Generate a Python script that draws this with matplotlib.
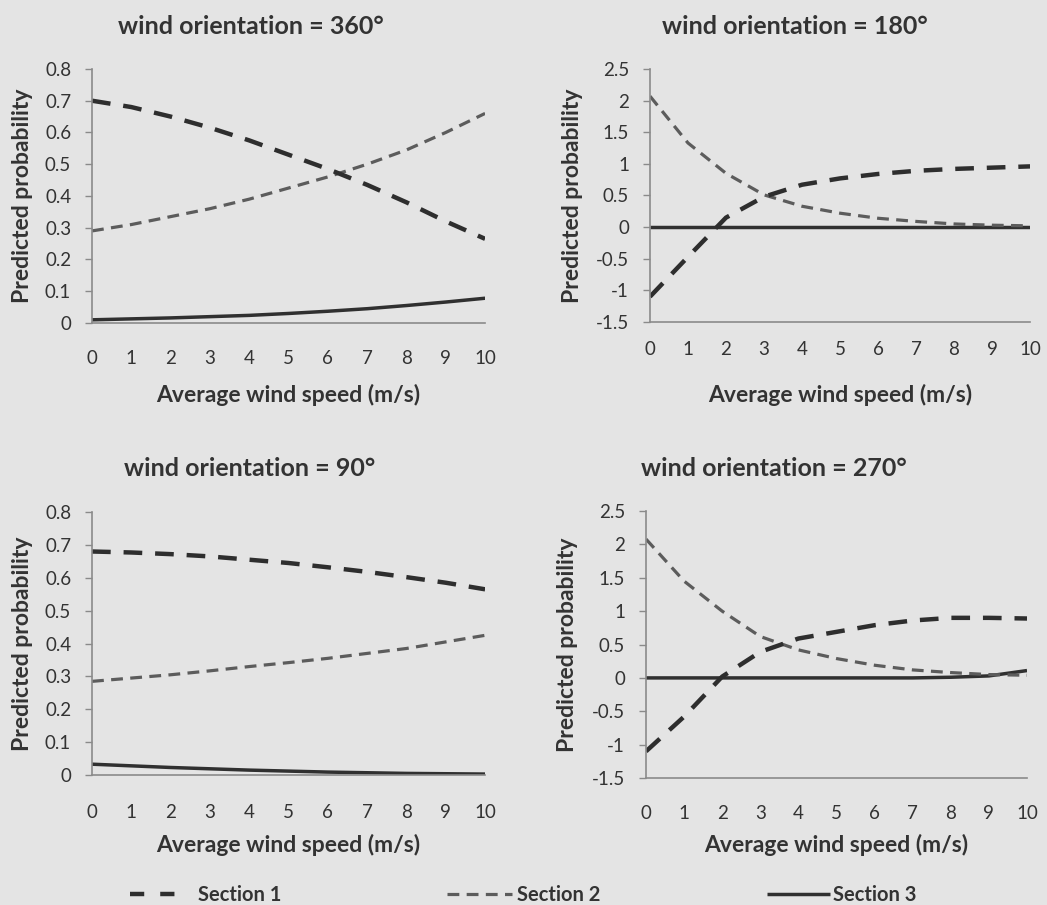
import matplotlib
matplotlib.use("Agg")
import matplotlib.pyplot as plt
from matplotlib.lines import Line2D

# ---------------- data ----------------
wind_speed = [0, 1, 2, 3, 4, 5, 6, 7, 8, 9, 10]
xtick_labels = ["0", "1", "2", "3", "4", "5", "6", "7", "8", "9", "10"]

titles = ["wind orientation = 360°", "wind orientation = 180°",
          "wind orientation = 90°", "wind orientation = 270°"]
series_names = ["Section 1", "Section 2", "Section 3"]

s1_360 = [0.70, 0.68, 0.65, 0.615, 0.575, 0.53, 0.485, 0.435, 0.38, 0.32, 0.265]
s2_360 = [0.29, 0.31, 0.335, 0.36, 0.39, 0.425, 0.46, 0.50, 0.545, 0.60, 0.66]
s3_360 = [0.010, 0.013, 0.016, 0.020, 0.024, 0.030, 0.037, 0.045, 0.055, 0.066, 0.078]

s1_180 = [-1.10, -0.47, 0.15, 0.48, 0.67, 0.77, 0.84, 0.89, 0.92, 0.94, 0.96]
s2_180 = [2.07, 1.33, 0.85, 0.51, 0.33, 0.22, 0.14, 0.09, 0.05, 0.03, 0.02]
s3_180 = [0.0, 0.0, 0.0, 0.0, 0.0, 0.0, 0.0, 0.0, 0.0, 0.0, 0.0]

s1_90 = [0.68, 0.677, 0.672, 0.665, 0.655, 0.645, 0.632, 0.618, 0.602, 0.585, 0.565]
s2_90 = [0.285, 0.295, 0.305, 0.317, 0.33, 0.342, 0.355, 0.37, 0.385, 0.405, 0.425]
s3_90 = [0.033, 0.028, 0.023, 0.019, 0.015, 0.012, 0.009, 0.007, 0.005, 0.004, 0.003]

s1_270 = [-1.10, -0.58, 0.02, 0.39, 0.59, 0.69, 0.79, 0.86, 0.90, 0.90, 0.89]
s2_270 = [2.08, 1.45, 1.00, 0.62, 0.42, 0.29, 0.19, 0.12, 0.08, 0.05, 0.04]
s3_270 = [0.0, 0.0, 0.0, 0.0, 0.0, 0.0, 0.0, 0.0, 0.01, 0.03, 0.11]

yticks_prob = [0, 0.1, 0.2, 0.3, 0.4, 0.5, 0.6, 0.7, 0.8]
yticklabels_prob = ["0", "0.1", "0.2", "0.3", "0.4", "0.5", "0.6", "0.7", "0.8"]
yticks_wide = [-1.5, -1, -0.5, 0, 0.5, 1, 1.5, 2, 2.5]
yticklabels_wide = ["-1.5", "-1", "-0.5", "0", "0.5", "1", "1.5", "2", "2.5"]

# ---------------- style ----------------
BG = "#e4e4e4"
FONT = ["Lato", "DejaVu Sans"]
plt.rcParams["font.family"] = FONT
TXT = "#333333"
W, H = 1047, 905

fig = plt.figure(figsize=(W / 100, H / 100), dpi=100, facecolor=BG)

panels = [
    # rect, title centre (px), data, yticks, labels, ylabel x (axes frac), xtick pad, xlabel centre y (px)
    ([0.0879, 0.6431, 0.3754, 0.2807], (251, 27), (s1_360, s2_360, s3_360),
     yticks_prob, yticklabels_prob, -0.178, 19.5, 395),
    ([0.6208, 0.6442, 0.3630, 0.2796], (795, 27), (s1_180, s2_180, s3_180),
     yticks_wide, yticklabels_wide, -0.203, 14, 395),
    ([0.0879, 0.1436, 0.3754, 0.2906], (250, 468), (s1_90, s2_90, s3_90),
     yticks_prob, yticklabels_prob, -0.178, 21, 845),
    ([0.6170, 0.1403, 0.3639, 0.2950], (774, 468), (s1_270, s2_270, s3_270),
     yticks_wide, yticklabels_wide, -0.207, 19.5, 845),
]

style1 = dict(color="#2e2e2e", lw=3.2, dashes=(4.2, 2.9), dash_capstyle="butt")
style2 = dict(color="#5c5c5c", lw=2.3, dashes=(3.7, 2.3), dash_capstyle="butt")
style3 = dict(color="#303030", lw=2.5, solid_capstyle="butt")

for (rect, tpos, data, yt, ytl, ylx, xpad, xly), title in zip(panels, titles):
    ax = fig.add_axes(rect)
    ax.set_facecolor(BG)
    s1, s2, s3 = data
    ax.plot(wind_speed, s3, **style3)
    ax.plot(wind_speed, s2, **style2)
    ax.plot(wind_speed, s1, **style1)
    ax.set_xlim(0, 10)
    ax.set_ylim(yt[0], yt[-1])
    ax.set_yticks(yt)
    ax.set_yticklabels(ytl)
    ax.set_xticks(wind_speed)
    ax.set_xticklabels(xtick_labels)
    for side in ("top", "right"):
        ax.spines[side].set_visible(False)
    for side in ("left", "bottom"):
        ax.spines[side].set_color("#8a8a8a")
        ax.spines[side].set_linewidth(1.2)
    ax.tick_params(axis="y", length=5, width=1.0, color="#8a8a8a",
                   labelsize=13.5, labelcolor=TXT, pad=10)
    ax.tick_params(axis="x", length=0, labelsize=13.5, labelcolor=TXT, pad=xpad)
    ax.set_ylabel("Predicted probability", fontsize=16.5, fontweight="bold",
                  color=TXT, va="center")
    ax.yaxis.set_label_coords(ylx, 0.5)
    ax.set_xlabel("Average wind speed (m/s)", fontsize=16.5, fontweight="bold",
                  color=TXT, va="center")
    cx = rect[0] + rect[2] / 2
    ax.xaxis.set_label_coords(cx, 1 - xly / H, transform=fig.transFigure)
    fig.text(tpos[0] / W, 1 - tpos[1] / H, title, fontsize=18, fontweight="bold",
             color=TXT, ha="center", va="center")

# legend: three separate entries placed along the bottom
leg_y = 1 - 895 / H
handle1 = dict(style1, dashes=(3.2, 3.6))
leg_specs = [
    (handle1, series_names[0], 130, 2.25, 1.15),
    (style2, series_names[1], 447, 3.25, 0.25),
    (style3, series_names[2], 767, 3.15, 0.12),
]
for sty, name, x0, hl, tp in leg_specs:
    leg = fig.legend([Line2D([], [], **sty)], [name], loc="center left",
                     bbox_to_anchor=(x0 / W, leg_y), frameon=False,
                     borderpad=0, borderaxespad=0, handlelength=hl, handletextpad=tp,
                     prop={"family": FONT, "size": 14.5, "weight": "bold"})
    for t in leg.get_texts():
        t.set_color(TXT)

fig.savefig("out.png", dpi=100, facecolor=BG)
